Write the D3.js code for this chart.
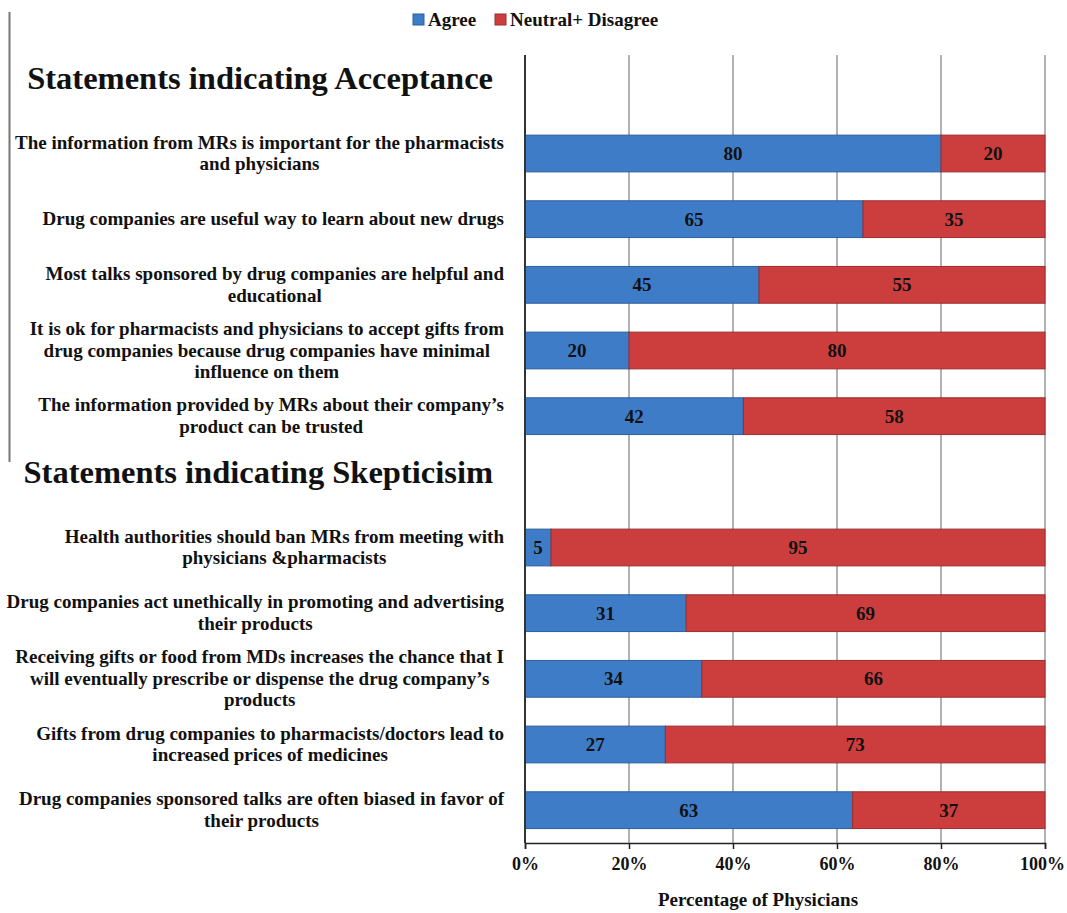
<!DOCTYPE html>
<html>
<head>
<meta charset="utf-8">
<script src="https://cdn.jsdelivr.net/npm/d3@7"></script>
<style>
  body { margin: 0; background: #fff; }
  text { font-family: "Liberation Serif", "Times New Roman", serif; font-weight: bold; fill: #111; }
</style>
</head>
<body>
<svg id="chart" width="1067" height="913"></svg>
<script>
// category rows (section headers have no bars)
const categories = [
  ["Statements indicating Acceptance"],
  ["The information from MRs is important  for the pharmacists", "and physicians"],
  ["Drug companies are useful way to learn  about new drugs"],
  ["Most talks sponsored by drug companies are helpful and", "educational"],
  ["It is ok for pharmacists  and physicians to accept gifts from", "drug companies because drug companies have minimal", "influence on them"],
  ["The information provided by MRs about their company\u2019s", "product can be trusted"],
  ["Statements indicating Skepticisim"],
  ["Health authorities should ban MRs from meeting with", "physicians &pharmacists"],
  ["Drug companies act unethically in promoting and advertising", "their products"],
  ["Receiving gifts or food from MDs increases the chance that I", "will eventually prescribe or dispense the drug company\u2019s", "products"],
  ["Gifts from drug companies to pharmacists/doctors  lead to", "increased prices of medicines"],
  ["Drug companies sponsored talks are often biased in favor of", "their products"]
];
const isHeader = [true, false, false, false, false, false, true, false, false, false, false, false];
const agree =           [null, 80, 65, 45, 20, 42, null, 5, 31, 34, 27, 63];
const neutralDisagree = [null, 20, 35, 55, 80, 58, null, 95, 69, 66, 73, 37];
const seriesNames = ["Agree", "Neutral+ Disagree"];
const colors = ["#3f7cc8", "#cb3e3d"];
const strokes = ["#2d5e9e", "#9c2e2e"];
const xTicks = [0, 20, 40, 60, 80, 100];

const svg = d3.select("#chart");
const margin = { top: 55, right: 22, bottom: 70, left: 525 };
const width = 1067 - margin.left - margin.right;
const height = 913 - margin.top - margin.bottom;

const x = d3.scaleLinear().domain([0, 100]).range([0, width]);
const y = d3.scaleBand()
  .domain(d3.range(categories.length))
  .range([0, height])
  .paddingInner(0.44)
  .paddingOuter(0.22);

// stray border line on the left
svg.append("line")
  .attr("x1", 9.5).attr("x2", 9.5)
  .attr("y1", 12).attr("y2", 462)
  .attr("stroke", "#777").attr("stroke-width", 2);

const g = svg.append("g")
  .attr("transform", `translate(${margin.left},${margin.top})`);

// vertical gridlines
g.append("g")
  .selectAll("line")
  .data(xTicks.slice(1))
  .join("line")
  .attr("x1", d => x(d)).attr("x2", d => x(d))
  .attr("y1", 0).attr("y2", height)
  .attr("stroke", "#999").attr("stroke-width", 1.5);

// stacked bars
const rows = categories.map((c, i) => ({ i, a: agree[i], n: neutralDisagree[i] }))
  .filter(d => d.a !== null);

const bars = g.append("g");
rows.forEach(d => {
  const segs = [
    { x0: 0, x1: d.a, v: d.a, k: 0 },
    { x0: d.a, x1: d.a + d.n, v: d.n, k: 1 }
  ];
  segs.forEach(s => {
    bars.append("rect")
      .attr("x", x(s.x0))
      .attr("y", y(d.i))
      .attr("width", x(s.x1) - x(s.x0))
      .attr("height", y.bandwidth())
      .attr("fill", colors[s.k])
      .attr("stroke", strokes[s.k])
      .attr("stroke-width", 1);
    bars.append("text")
      .attr("x", (x(s.x0) + x(s.x1)) / 2)
      .attr("y", y(d.i) + y.bandwidth() / 2)
      .attr("dy", "0.35em")
      .attr("text-anchor", "middle")
      .attr("font-size", 19)
      .text(s.v);
  });
});

// left axis line
g.append("line")
  .attr("x1", 0).attr("x2", 0)
  .attr("y1", 0).attr("y2", height)
  .attr("stroke", "#333").attr("stroke-width", 2);

// bottom axis
const xAxis = g.append("g")
  .attr("transform", `translate(0,${height})`)
  .call(d3.axisBottom(x).tickValues(xTicks).tickFormat(d => d + "%").tickSize(6).tickPadding(8));
xAxis.select(".domain").attr("stroke", "#222").attr("stroke-width", 1.5);
xAxis.selectAll(".tick line").attr("stroke", "#222").attr("stroke-width", 1.5);
xAxis.selectAll(".tick text")
  .attr("font-family", "Liberation Serif, Times New Roman, serif")
  .attr("font-weight", "bold")
  .attr("font-size", 18)
  .attr("fill", "#111");
// keep the last tick label inside the page
xAxis.selectAll(".tick text").filter(d => d === 100).attr("dx", -3);

// category labels
const labelRight = 504 - margin.left;
const lineH = 21.5;
categories.forEach((lines, i) => {
  const cy = y(i) + y.bandwidth() / 2;
  if (isHeader[i]) {
    g.append("text")
      .attr("x", labelRight - 11)
      .attr("y", cy + 1)
      .attr("text-anchor", "end")
      .attr("font-size", 32.5)
      .text(lines[0]);
    return;
  }
  const t = g.append("text")
    .attr("font-size", 19)
    .attr("text-anchor", "middle");
  const spans = lines.map((l, j) => t.append("tspan")
    .attr("y", cy - (lines.length - 1) / 2 * lineH + j * lineH + 6)
    .text(l));
  const w = d3.max(spans, s => s.node().getComputedTextLength());
  spans.forEach(s => s.attr("x", labelRight - w / 2));
});

// axis title
svg.append("text")
  .attr("x", 758)
  .attr("y", 906)
  .attr("text-anchor", "middle")
  .attr("font-size", 19)
  .text("Percentage of Physicians");

// legend
const legend = svg.append("g").attr("transform", "translate(413,14)");
const legendX = [0, 82];
seriesNames.forEach((name, k) => {
  legend.append("rect")
    .attr("x", legendX[k]).attr("y", 0)
    .attr("width", 11).attr("height", 11)
    .attr("fill", colors[k]).attr("stroke", strokes[k]);
  legend.append("text")
    .attr("x", legendX[k] + 15).attr("y", 12)
    .attr("font-size", 19)
    .text(name);
});
</script>
</body>
</html>
